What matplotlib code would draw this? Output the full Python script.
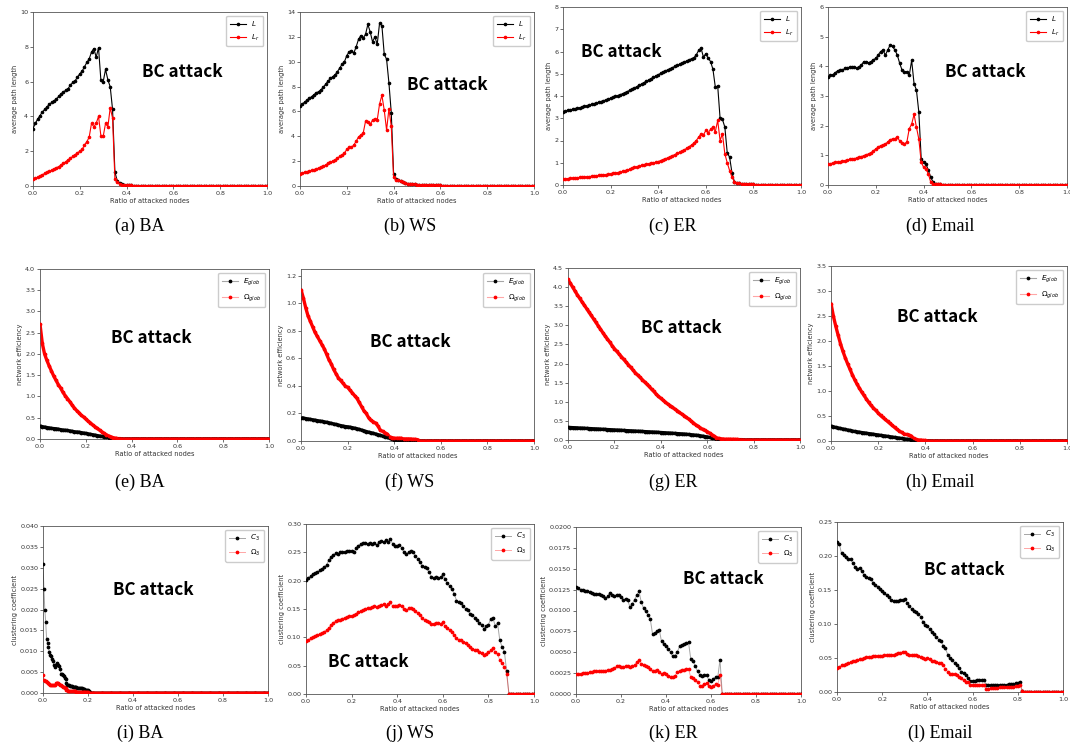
import numpy as np
import matplotlib
matplotlib.use("Agg")
import matplotlib.pyplot as plt

# ---------------------------------------------------------------------------
# Data: ratio of attacked nodes on a regular grid (step per panel);
# values listed until the network is fully broken, zero afterwards.
# ---------------------------------------------------------------------------
STEP_MAIN = 0.01
STEP_BA_CLUST = 0.004

# Row 1: average path length
L_BA = [3.3, 3.6, 3.85, 4.05, 4.25, 4.4, 4.55, 4.7, 4.8, 4.9, 5.0, 5.15, 5.3, 5.4, 5.5, 5.6,
        5.8, 5.95, 6.05, 6.25, 6.45, 6.6, 6.85, 7.1, 7.3, 7.7, 7.9, 7.4, 7.95, 6.1, 6.0, 6.7,
        6.1, 5.7, 4.4, 0.8, 0.3, 0.15, 0.1, 0.07, 0.05, 0.04, 0.03]
Lr_BA = [0.4, 0.45, 0.5, 0.58, 0.65, 0.72, 0.78, 0.84, 0.9, 0.98, 1.05, 1.12, 1.2, 1.3, 1.4,
         1.5, 1.6, 1.7, 1.8, 1.9, 2.0, 2.1, 2.35, 2.55, 2.8, 3.6, 3.4, 3.6, 4.0, 2.9, 2.85, 3.6,
         3.4, 4.5, 3.9, 0.4, 0.25, 0.12, 0.08, 0.06, 0.05, 0.04, 0.03]
L_WS = [6.4, 6.6, 6.75, 6.9, 7.05, 7.2, 7.35, 7.5, 7.6, 7.75, 7.95, 8.2, 8.45, 8.65, 8.8, 8.95,
        9.2, 9.5, 9.8, 10.0, 10.5, 10.8, 10.9, 10.7, 11.2, 11.8, 12.1, 11.9, 12.2, 13.0, 12.4,
        11.6, 12.0, 11.4, 13.1, 12.9, 10.6, 10.2, 8.3, 5.9, 1.0, 0.55, 0.45, 0.4, 0.35, 0.25,
        0.2, 0.17, 0.15, 0.13, 0.12, 0.11, 0.1, 0.09, 0.08, 0.08, 0.07, 0.06, 0.06, 0.05, 0.05]
Lr_WS = [1.0, 1.05, 1.1, 1.15, 1.2, 1.25, 1.3, 1.38, 1.45, 1.52, 1.6, 1.7, 1.82, 1.92, 2.0, 2.1,
         2.25, 2.38, 2.5, 2.65, 2.95, 3.1, 3.1, 3.3, 3.6, 3.95, 4.1, 4.25, 5.2, 5.15, 4.95, 5.3,
         5.4, 5.3, 6.6, 7.3, 6.1, 4.5, 6.2, 4.8, 0.7, 0.5, 0.45, 0.38, 0.33, 0.25, 0.2, 0.17,
         0.15, 0.13, 0.12, 0.11, 0.1, 0.09, 0.08, 0.08, 0.07, 0.06, 0.06, 0.05, 0.05]
L_ER = [3.30, 3.32, 3.35, 3.37, 3.40, 3.42, 3.45, 3.47, 3.50, 3.53, 3.56, 3.59, 3.62, 3.65, 3.68,
        3.72, 3.75, 3.79, 3.82, 3.86, 3.90, 3.94, 3.98, 4.02, 4.06, 4.10, 4.15, 4.20, 4.25, 4.30,
        4.36, 4.42, 4.48, 4.54, 4.60, 4.66, 4.72, 4.78, 4.84, 4.90, 4.95, 5.02, 5.08, 5.12, 5.18,
        5.22, 5.28, 5.33, 5.38, 5.42, 5.48, 5.52, 5.58, 5.62, 5.68, 5.72, 5.85, 6.05, 6.15, 5.75,
        5.90, 5.70, 5.55, 5.20, 4.40, 4.45, 3.00, 2.95, 2.60, 1.45, 1.25, 0.55, 0.15, 0.10, 0.08,
        0.06, 0.05, 0.04, 0.04, 0.03, 0.03]
Lr_ER = [0.27, 0.28, 0.29, 0.30, 0.31, 0.32, 0.33, 0.34, 0.35, 0.36, 0.37, 0.38, 0.39, 0.40, 0.41,
         0.43, 0.44, 0.45, 0.47, 0.48, 0.50, 0.52, 0.54, 0.56, 0.58, 0.61, 0.64, 0.67, 0.71, 0.75,
         0.79, 0.82, 0.85, 0.88, 0.91, 0.93, 0.96, 0.98, 1.00, 1.02, 1.05, 1.10, 1.14, 1.18, 1.22,
         1.27, 1.32, 1.37, 1.42, 1.47, 1.52, 1.58, 1.65, 1.72, 1.80, 1.88, 2.00, 2.15, 2.30, 2.25,
         2.45, 2.35, 2.50, 2.60, 2.40, 2.90, 2.00, 2.30, 1.40, 1.00, 0.65, 0.35, 0.15, 0.10, 0.08,
         0.06, 0.05, 0.04, 0.04, 0.03, 0.03]
L_EM = [3.65, 3.70, 3.72, 3.78, 3.85, 3.87, 3.86, 3.93, 3.95, 3.97, 3.99, 3.97, 3.93, 3.98, 4.05,
        4.16, 4.15, 4.12, 4.16, 4.22, 4.27, 4.38, 4.50, 4.55, 4.38, 4.55, 4.72, 4.67, 4.55, 4.38,
        4.10, 3.87, 3.82, 3.82, 3.70, 4.20, 3.42, 3.20, 2.46, 0.88, 0.77, 0.71, 0.49, 0.26, 0.09,
        0.05, 0.04, 0.03]
Lr_EM = [0.71, 0.72, 0.74, 0.76, 0.77, 0.78, 0.80, 0.82, 0.84, 0.86, 0.88, 0.89, 0.91, 0.94, 0.96,
         0.99, 1.02, 1.05, 1.09, 1.15, 1.22, 1.27, 1.33, 1.35, 1.38, 1.45, 1.53, 1.55, 1.56, 1.62,
         1.48, 1.40, 1.39, 1.45, 1.90, 2.05, 2.38, 1.95, 1.55, 0.77, 0.60, 0.54, 0.37, 0.09, 0.05,
         0.04, 0.03, 0.03]

# Row 2: network efficiency
E_BA = [0.31, 0.29, 0.28, 0.27, 0.26, 0.25, 0.245, 0.24, 0.23, 0.22, 0.21, 0.205, 0.20, 0.19,
        0.18, 0.17, 0.165, 0.16, 0.15, 0.14, 0.13, 0.12, 0.11, 0.10, 0.09, 0.08, 0.07, 0.06, 0.05,
        0.04, 0.03, 0.02, 0.01, 0.005]
O_BA = [2.7, 2.25, 2.0, 1.85, 1.72, 1.6, 1.48, 1.38, 1.28, 1.2, 1.1, 1.02, 0.95, 0.88, 0.8, 0.73,
        0.67, 0.62, 0.56, 0.52, 0.47, 0.42, 0.38, 0.33, 0.29, 0.25, 0.21, 0.17, 0.13, 0.1, 0.07,
        0.05, 0.03, 0.02, 0.01, 0.01]
E_WS = [0.170, 0.167, 0.163, 0.160, 0.157, 0.154, 0.151, 0.148, 0.145, 0.142, 0.139, 0.136, 0.132,
        0.128, 0.124, 0.120, 0.116, 0.112, 0.108, 0.105, 0.103, 0.100, 0.097, 0.093, 0.089, 0.084,
        0.079, 0.074, 0.069, 0.064, 0.060, 0.056, 0.051, 0.046, 0.041, 0.036, 0.031, 0.026, 0.020,
        0.014, 0.010, 0.008, 0.006, 0.005]
O_WS = [1.10, 1.04, 0.97, 0.91, 0.87, 0.83, 0.79, 0.76, 0.73, 0.70, 0.67, 0.63, 0.59, 0.56, 0.52,
        0.49, 0.46, 0.44, 0.42, 0.40, 0.39, 0.37, 0.35, 0.33, 0.31, 0.28, 0.25, 0.22, 0.20, 0.17,
        0.15, 0.14, 0.13, 0.11, 0.08, 0.07, 0.06, 0.05, 0.03, 0.025, 0.02, 0.02, 0.02, 0.02, 0.015,
        0.015, 0.015, 0.015, 0.012, 0.012, 0.01]
E_ER = [0.330, 0.327, 0.323, 0.320, 0.317, 0.313, 0.310, 0.307, 0.303, 0.300, 0.297, 0.293, 0.290,
        0.287, 0.283, 0.280, 0.277, 0.273, 0.270, 0.266, 0.263, 0.260, 0.256, 0.253, 0.250, 0.246,
        0.243, 0.240, 0.236, 0.233, 0.230, 0.226, 0.223, 0.220, 0.216, 0.213, 0.210, 0.206, 0.203,
        0.200, 0.196, 0.192, 0.188, 0.184, 0.180, 0.176, 0.172, 0.168, 0.164, 0.160, 0.155, 0.150,
        0.144, 0.138, 0.132, 0.126, 0.118, 0.110, 0.100, 0.090, 0.080, 0.068, 0.055, 0.042, 0.030,
        0.018, 0.008, 0.004]
O_ER = [4.20, 4.10, 4.00, 3.90, 3.80, 3.71, 3.62, 3.53, 3.44, 3.35, 3.26, 3.17, 3.08, 2.99, 2.90,
        2.81, 2.72, 2.64, 2.56, 2.47, 2.39, 2.32, 2.25, 2.18, 2.11, 2.04, 1.97, 1.90, 1.83, 1.76,
        1.70, 1.64, 1.58, 1.52, 1.46, 1.40, 1.33, 1.27, 1.20, 1.14, 1.09, 1.04, 0.99, 0.94, 0.90,
        0.86, 0.81, 0.77, 0.72, 0.68, 0.64, 0.59, 0.55, 0.50, 0.45, 0.40, 0.36, 0.32, 0.28, 0.25,
        0.22, 0.18, 0.14, 0.10, 0.06, 0.04, 0.03, 0.025, 0.02, 0.02, 0.02, 0.02, 0.015, 0.015,
        0.01, 0.01]
E_EM = [0.30, 0.285, 0.27, 0.26, 0.25, 0.24, 0.23, 0.22, 0.21, 0.20, 0.19, 0.183, 0.176, 0.169,
        0.162, 0.155, 0.148, 0.141, 0.134, 0.127, 0.12, 0.113, 0.106, 0.099, 0.092, 0.085, 0.078,
        0.071, 0.064, 0.057, 0.05, 0.043, 0.036, 0.03, 0.02, 0.01, 0.005]
O_EM = [2.75, 2.50, 2.30, 2.12, 1.95, 1.80, 1.67, 1.55, 1.44, 1.33, 1.23, 1.14, 1.06, 0.98, 0.91,
        0.84, 0.77, 0.71, 0.66, 0.61, 0.56, 0.51, 0.47, 0.43, 0.39, 0.35, 0.31, 0.27, 0.23, 0.20,
        0.17, 0.14, 0.13, 0.12, 0.10, 0.05, 0.03, 0.02, 0.02, 0.01, 0.01]

# Row 3: clustering coefficient (BA sampled every 0.004)
C_BA = [0.031, 0.025, 0.020, 0.017, 0.013, 0.012, 0.011, 0.0098, 0.0092, 0.0088, 0.0082, 0.0076,
        0.0068, 0.0062, 0.0066, 0.0072, 0.0069, 0.0067, 0.0065, 0.0058, 0.0046, 0.0045, 0.0043,
        0.0041, 0.0037, 0.0033, 0.0024, 0.0020, 0.0019, 0.0018, 0.0017, 0.0016, 0.0016, 0.0015,
        0.0015, 0.0015, 0.0014, 0.0014, 0.0013, 0.0013, 0.0012, 0.0012, 0.0011, 0.0011, 0.0010,
        0.0009, 0.0009, 0.0008, 0.0008, 0.0007, 0.0006, 0.0005, 0.0003]
W_BA = [0.0042, 0.0032, 0.0029, 0.0028, 0.0026, 0.0025, 0.0024, 0.0021, 0.0020, 0.0020, 0.0020,
        0.0019, 0.0018, 0.0019, 0.0023, 0.0025, 0.0024, 0.0024, 0.0022, 0.0020, 0.0018, 0.0017,
        0.0015, 0.0014, 0.0013, 0.0012, 0.0008, 0.0006, 0.0005, 0.0005, 0.0005, 0.0004, 0.0004,
        0.0004, 0.0004, 0.0004, 0.0004, 0.0003, 0.0003, 0.0003, 0.0003, 0.0003, 0.0003, 0.0002,
        0.0002, 0.0002, 0.0002, 0.0002, 0.0002, 0.0002, 0.0002, 0.0001, 0.0001]
C_WS = [0.201, 0.205, 0.208, 0.212, 0.213, 0.215, 0.218, 0.221, 0.224, 0.228, 0.236, 0.242, 0.246,
        0.248, 0.247, 0.250, 0.251, 0.250, 0.252, 0.253, 0.252, 0.251, 0.257, 0.262, 0.265, 0.266,
        0.267, 0.265, 0.266, 0.264, 0.266, 0.263, 0.268, 0.270, 0.268, 0.271, 0.268, 0.274, 0.265,
        0.262, 0.261, 0.263, 0.258, 0.250, 0.247, 0.251, 0.252, 0.250, 0.244, 0.238, 0.233, 0.226,
        0.224, 0.222, 0.215, 0.207, 0.205, 0.206, 0.204, 0.206, 0.212, 0.203, 0.196, 0.190, 0.185,
        0.177, 0.165, 0.162, 0.160, 0.155, 0.150, 0.148, 0.142, 0.140, 0.135, 0.130, 0.126, 0.122,
        0.115, 0.120, 0.122, 0.133, 0.134, 0.120, 0.125, 0.095, 0.083, 0.075, 0.040]
W_WS = [0.093, 0.096, 0.099, 0.100, 0.102, 0.104, 0.106, 0.108, 0.110, 0.113, 0.117, 0.121, 0.126,
        0.129, 0.130, 0.131, 0.133, 0.135, 0.136, 0.137, 0.138, 0.139, 0.141, 0.144, 0.146, 0.148,
        0.150, 0.152, 0.151, 0.153, 0.155, 0.154, 0.156, 0.157, 0.158, 0.156, 0.158, 0.162, 0.155,
        0.156, 0.155, 0.157, 0.155, 0.150, 0.148, 0.151, 0.152, 0.150, 0.146, 0.143, 0.140, 0.134,
        0.130, 0.128, 0.127, 0.124, 0.124, 0.126, 0.125, 0.124, 0.127, 0.120, 0.117, 0.113, 0.110,
        0.104, 0.098, 0.096, 0.095, 0.092, 0.090, 0.086, 0.083, 0.080, 0.078, 0.077, 0.074, 0.072,
        0.068, 0.070, 0.074, 0.077, 0.082, 0.074, 0.070, 0.060, 0.055, 0.048, 0.035]
C_ER = [0.0128, 0.0127, 0.0125, 0.0124, 0.0123, 0.0123, 0.0122, 0.0121, 0.0120, 0.0120, 0.0120,
        0.0119, 0.0117, 0.0115, 0.0117, 0.0121, 0.0118, 0.0117, 0.0119, 0.0118, 0.0116, 0.0113,
        0.0114, 0.0112, 0.0104, 0.0108, 0.0113, 0.0118, 0.0123, 0.0110, 0.0103, 0.0099, 0.0095,
        0.0090, 0.0072, 0.0073, 0.0075, 0.0077, 0.0063, 0.0060, 0.0057, 0.0054, 0.0050, 0.0045,
        0.0046, 0.0050, 0.0057, 0.0059, 0.0060, 0.0061, 0.0062, 0.0042, 0.0039, 0.0034, 0.0027,
        0.0023, 0.0022, 0.0023, 0.0023, 0.0017, 0.0015, 0.0018, 0.0020, 0.0020, 0.0041]
W_ER = [0.0024, 0.0024, 0.0024, 0.0025, 0.0025, 0.0025, 0.0026, 0.0026, 0.0027, 0.0027, 0.0027,
        0.0028, 0.0028, 0.0028, 0.0029, 0.0029, 0.0030, 0.0031, 0.0033, 0.0034, 0.0032, 0.0032,
        0.0033, 0.0033, 0.0032, 0.0033, 0.0035, 0.0038, 0.0041, 0.0036, 0.0035, 0.0034, 0.0032,
        0.0030, 0.0027, 0.0028, 0.0029, 0.0026, 0.0024, 0.0025, 0.0024, 0.0022, 0.0020, 0.0020,
        0.0022, 0.0026, 0.0028, 0.0029, 0.0029, 0.0030, 0.0030, 0.0020, 0.0019, 0.0017, 0.0014,
        0.0010, 0.0010, 0.0012, 0.0013, 0.0010, 0.0008, 0.0010, 0.0012, 0.0011, 0.0023]
C_EM = [0.221, 0.218, 0.204, 0.201, 0.199, 0.196, 0.195, 0.190, 0.184, 0.181, 0.183, 0.178, 0.172,
        0.169, 0.167, 0.166, 0.161, 0.158, 0.155, 0.152, 0.149, 0.145, 0.142, 0.139, 0.136, 0.134,
        0.134, 0.134, 0.135, 0.136, 0.137, 0.131, 0.126, 0.122, 0.119, 0.117, 0.114, 0.111, 0.103,
        0.099, 0.097, 0.092, 0.088, 0.085, 0.081, 0.077, 0.075, 0.068, 0.064, 0.055, 0.050, 0.047,
        0.043, 0.040, 0.036, 0.030, 0.028, 0.025, 0.021, 0.016, 0.016, 0.016, 0.017, 0.017, 0.018,
        0.018, 0.011, 0.011, 0.010, 0.010, 0.010, 0.010, 0.011, 0.011, 0.011, 0.011, 0.012, 0.012,
        0.012, 0.013, 0.013, 0.014, 0.001]
W_EM = [0.036, 0.037, 0.039, 0.040, 0.041, 0.042, 0.044, 0.045, 0.046, 0.047, 0.048, 0.049, 0.050,
        0.051, 0.052, 0.052, 0.053, 0.053, 0.053, 0.053, 0.053, 0.054, 0.054, 0.054, 0.055, 0.055,
        0.056, 0.057, 0.058, 0.059, 0.059, 0.056, 0.054, 0.054, 0.054, 0.055, 0.053, 0.052, 0.050,
        0.049, 0.050, 0.048, 0.046, 0.045, 0.044, 0.043, 0.042, 0.040, 0.034, 0.030, 0.027, 0.026,
        0.026, 0.025, 0.022, 0.020, 0.017, 0.015, 0.014, 0.011, 0.010, 0.010, 0.010, 0.010, 0.010,
        0.010, 0.005, 0.005, 0.006, 0.006, 0.006, 0.006, 0.007, 0.007, 0.007, 0.007, 0.008, 0.008,
        0.008, 0.009, 0.009, 0.010, 0.001]

CAPTIONS = ["(a) BA", "(b) WS", "(c) ER", "(d) Email",
            "(e) BA", "(f) WS", "(g) ER", "(h) Email",
            "(i) BA", "(j) WS", "(k) ER", "(l) Email"]
YLABELS = ["average path length", "network efficiency", "clustering coefficient"]
LEGENDS = [(r"$L$", r"$L_r$"), (r"$E_{glob}$", r"$\Omega_{glob}$"), (r"$C_3$", r"$\Omega_3$")]
ANNOT = "BC attack"

# ---------------------------------------------------------------------------
W, H = 1070, 746
fig = plt.figure(figsize=(W / 100, H / 100), dpi=100)


def px_axes(left, top, right, bottom):
    return fig.add_axes([left / W, 1 - bottom / H, (right - left) / W, (bottom - top) / H])


def on_grid(vals, step):
    x = np.arange(0, 1 + step / 2, step)
    y = np.zeros_like(x)
    y[:len(vals)] = vals
    return x, y


panels = [
    # (axes box px, series pair, step, ylim, yticks, text pos)
    ((33, 12, 267, 186), (L_BA, Lr_BA), STEP_MAIN, 10, np.arange(0, 10.1, 2), (0.64, 0.655)),
    ((300, 12, 534, 186), (L_WS, Lr_WS), STEP_MAIN, 14, np.arange(0, 14.1, 2), (0.63, 0.58)),
    ((563, 7, 801, 185), (L_ER, Lr_ER), STEP_MAIN, 8, np.arange(0, 8.1, 1), (0.245, 0.75)),
    ((828, 7, 1067, 185), (L_EM, Lr_EM), STEP_MAIN, 6, np.arange(0, 6.1, 1), (0.66, 0.635)),
    ((40, 269, 269, 439), (E_BA, O_BA), STEP_MAIN, 4, np.arange(0, 4.01, 0.5), (0.485, 0.594)),
    ((301, 269, 534, 441), (E_WS, O_WS), STEP_MAIN, 1.25, np.arange(0, 1.21, 0.2), (0.47, 0.575)),
    ((568, 268, 800, 440), (E_ER, O_ER), STEP_MAIN, 4.5, np.arange(0, 4.51, 0.5), (0.49, 0.65)),
    ((831, 266, 1067, 441), (E_EM, O_EM), STEP_MAIN, 3.5, np.arange(0, 3.51, 0.5), (0.45, 0.71)),
    ((43, 526, 268, 693), (C_BA, W_BA), STEP_BA_CLUST, 0.04, np.arange(0, 0.0401, 0.005), (0.49, 0.617)),
    ((306, 524, 534, 694), (C_WS, W_WS), STEP_MAIN, 0.30, np.arange(0, 0.301, 0.05), (0.275, 0.19)),
    ((576, 527, 801, 694), (C_ER, W_ER), STEP_MAIN, 0.02, np.arange(0, 0.02001, 0.0025), (0.655, 0.69)),
    ((837, 522, 1063, 692), (C_EM, W_EM), STEP_MAIN, 0.25, np.arange(0, 0.251, 0.05), (0.565, 0.72)),
]

caption_x = [140, 410, 673, 940]
caption_y = [226, 482, 733]
yfmt = [None] * 8 + ["%.3f", "%.2f", "%.4f", "%.2f"]

for i, (box, (s1, s2), step, ytop, yt, tpos) in enumerate(panels):
    row = i // 4
    ax = px_axes(*box)
    x1, y1 = on_grid(s1, step)
    x2, y2 = on_grid(s2, step)
    if row == 0:
        lw, ms, alpha = 0.8, 3.2, 1.0
    elif row == 1:
        lw, ms, alpha = 0.8, 3.4, 0.35
        # dense sampling renders as a solid band
        ax.plot(x1, y1, color="k", lw=2.4, solid_capstyle="round", zorder=2)
        ax.plot(x2, y2, color="r", lw=2.4, solid_capstyle="round", zorder=2)
    else:
        lw, ms, alpha = 0.7, 3.4, 0.35
    ax.plot(x1, y1, color=(0, 0, 0, alpha), lw=lw, marker=".", ms=ms,
            mfc="k", mec="k", label=LEGENDS[row][0], zorder=3)
    ax.plot(x2, y2, color=(1, 0, 0, alpha), lw=lw, marker=".", ms=ms,
            mfc="r", mec="r", label=LEGENDS[row][1], zorder=3)
    ax.set_xlim(0, 1)
    ax.set_ylim(0, ytop)
    ax.set_xticks(np.arange(0, 1.01, 0.2))
    ax.set_yticks(yt)
    if yfmt[i]:
        ax.yaxis.set_major_formatter(matplotlib.ticker.FormatStrFormatter(yfmt[i]))
    else:
        ax.yaxis.set_major_formatter(matplotlib.ticker.FormatStrFormatter("%g" if row == 0 else "%.1f"))
    ax.xaxis.set_major_formatter(matplotlib.ticker.FormatStrFormatter("%.1f"))
    ax.tick_params(labelsize=4.6, length=2, width=0.5, pad=1.5, colors="#333333")
    for sp in ax.spines.values():
        sp.set_linewidth(0.6)
        sp.set_color("#555555")
    ax.set_xlabel("Ratio of attacked nodes", fontsize=4.8, labelpad=1.5, color="#333333")
    ax.set_ylabel(YLABELS[row], fontsize=4.8, labelpad=1.5, color="#333333")
    ax.legend(loc="upper right", fontsize=5.2, frameon=True, fancybox=True,
              borderpad=0.5, handlelength=2.2, labelspacing=0.6, framealpha=1,
              edgecolor="#cccccc")
    ax.text(tpos[0], tpos[1], ANNOT, transform=ax.transAxes, ha="center", va="center",
            fontsize=12.3, fontweight="bold", family="Noto Sans CJK SC", zorder=5)
    fig.text(caption_x[i % 4] / W, 1 - caption_y[row] / H, CAPTIONS[i],
             ha="center", va="center", fontsize=13, family="Liberation Serif")

fig.savefig("out.png", dpi=100)
